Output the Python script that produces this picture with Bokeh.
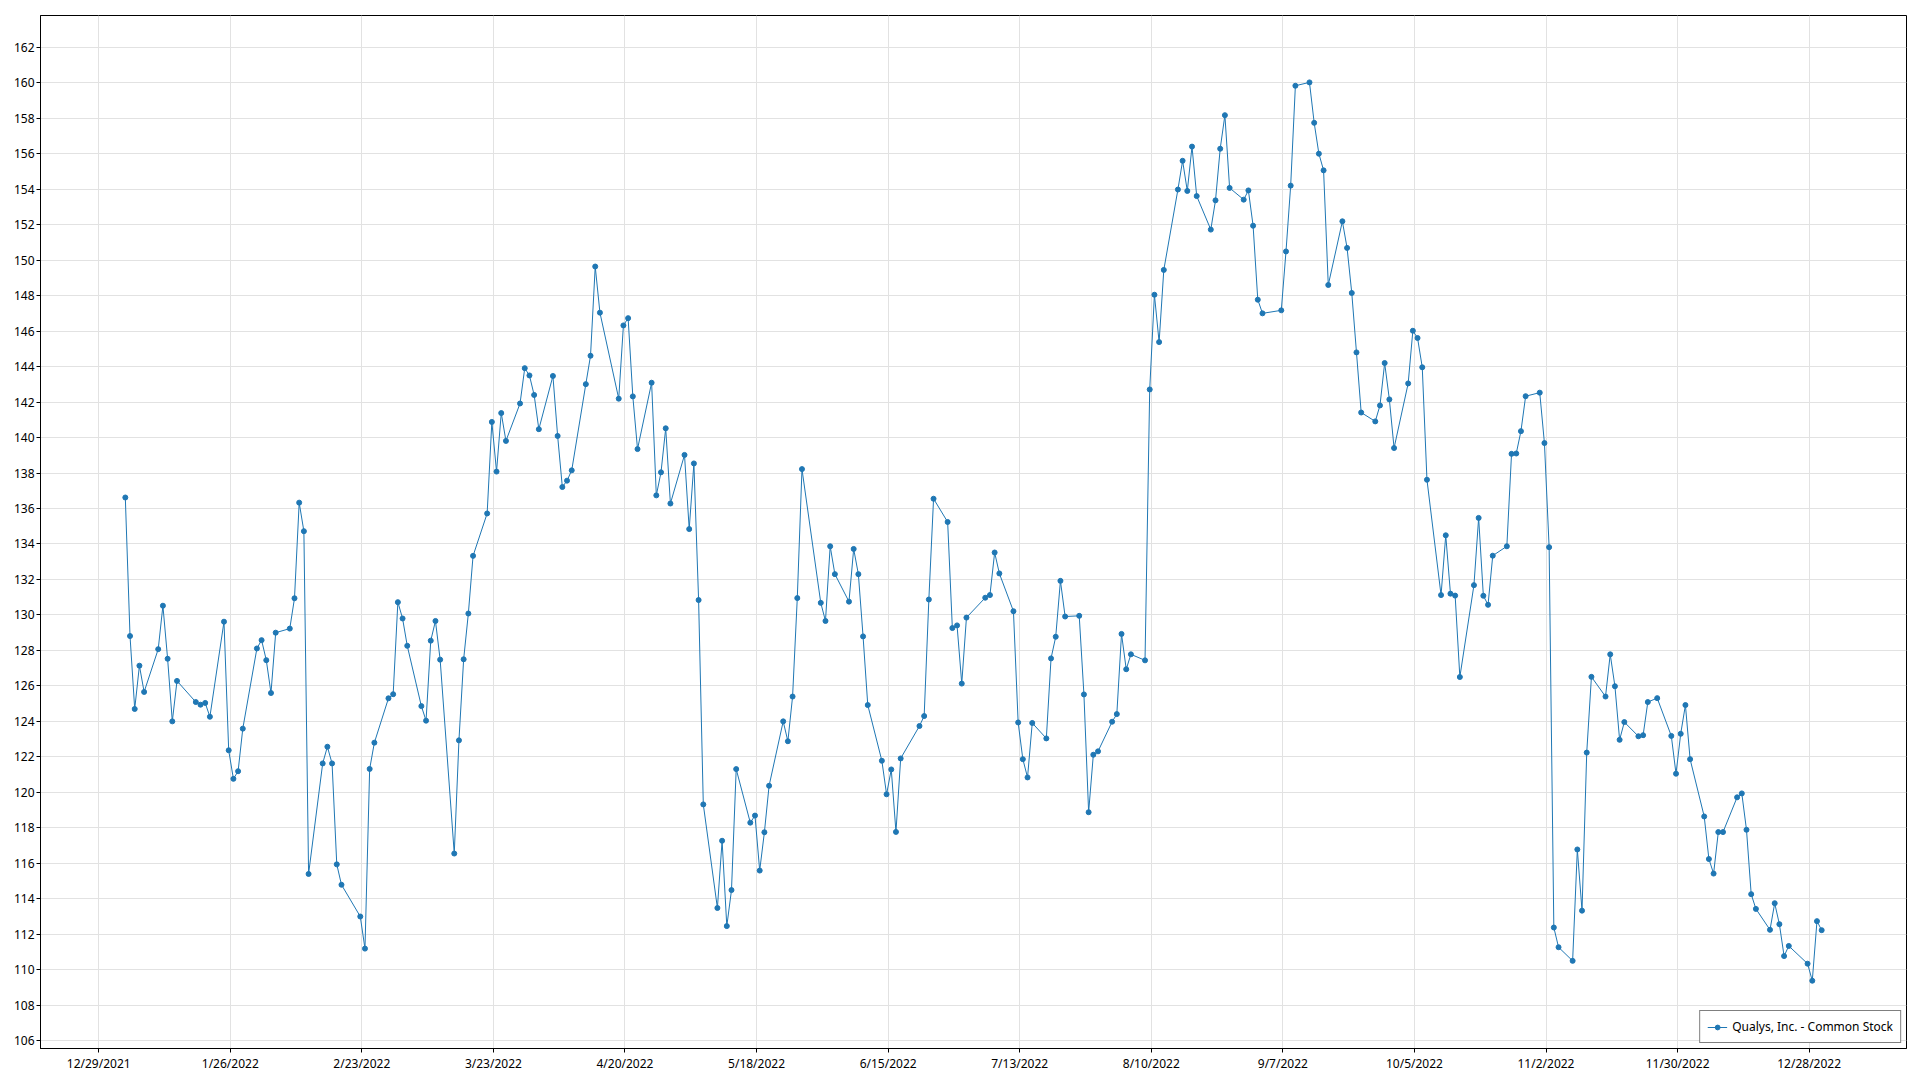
import pandas as pd
from bokeh.plotting import figure
from bokeh.models import (Range1d, FixedTicker, SingleIntervalTicker, CustomJSTickFormatter,
                          Legend, LegendItem, ColumnDataSource)
from bokeh.embed import file_html
from bokeh.resources import INLINE

# ---- data -------------------------------------------------------------
series_name = "Qualys, Inc. - Common Stock"

holidays_2022 = ["2022-01-17", "2022-02-21", "2022-04-15", "2022-05-30", "2022-06-20",
                 "2022-07-04", "2022-09-05", "2022-11-24", "2022-12-26"]

jan = [136.62, 128.81, 124.70, 127.14, 125.66, 128.07, 130.52, 127.53, 124.00, 126.28,
       125.09, 124.94, 125.04, 124.26, 129.62, 122.37, 120.76, 121.19, 123.59, 128.11]
feb = [128.58, 127.45, 125.60, 129.00, 129.23, 130.94, 136.33, 134.72, 115.40, 121.63,
       122.57, 121.63, 115.94, 114.79, 113.00, 111.19, 121.32, 122.80, 125.30]
mar = [125.53, 130.72, 129.80, 128.26, 124.86, 124.04, 128.55, 129.66, 127.48, 116.55,
       122.93, 127.50, 130.08, 133.33, 135.72, 140.88, 138.08, 141.38, 139.81, 141.92,
       143.91, 143.50, 142.40]
apr = [140.47, 143.47, 140.09, 137.21, 137.57, 138.15, 143.01, 144.61, 149.64, 147.04,
       142.19, 146.32, 146.73, 142.32, 139.35, 143.09, 136.74, 138.04, 140.52, 136.28]
may = [139.02, 134.84, 138.54, 130.84, 119.32, 113.48, 117.27, 112.46, 114.49, 121.31,
       118.29, 118.69, 115.59, 117.75, 120.37, 124.00, 122.88, 125.40, 130.95, 138.22,
       130.68]
jun = [129.66, 133.87, 132.30, 130.75, 133.72, 132.30, 128.79, 124.92, 121.78, 119.89,
       121.29, 117.77, 121.91, 123.74, 124.30, 130.87, 136.55, 135.24, 129.26, 129.41,
       126.13]
jul = [129.85, 130.97, 131.12, 133.52, 132.34, 130.21, 123.94, 121.87, 120.84, 123.91,
       123.04, 127.55, 128.77, 131.92, 129.91, 129.95, 125.52, 118.88, 122.12, 122.31]
aug = [123.98, 124.41, 128.93, 126.94, 127.78, 127.44, 142.71, 148.05, 145.38, 149.45,
       153.98, 155.60, 153.90, 156.40, 153.61, 151.72, 153.37, 156.28, 158.17, 154.07,
       153.41, 153.93, 151.94]
sep = [147.77, 147.00, 147.17, 150.49, 154.20, 159.83, 160.02, 157.74, 156.00, 155.06,
       148.60, 152.19, 150.69, 148.15, 144.80, 141.41, 140.91, 141.81, 144.20, 142.15,
       139.41]
oct_ = [143.05, 146.02, 145.61, 143.96, 137.62, 131.12, 134.49, 131.20, 131.09, 126.50,
        131.68, 135.47, 131.08, 130.57, 133.34, 133.87, 139.08, 139.10, 140.36, 142.33,
        142.53]
nov = [139.69, 133.82, 112.38, 111.27, 110.50, 116.78, 113.33, 122.24, 126.51, 125.40,
       127.78, 125.98, 122.96, 123.96, 123.16, 123.22, 125.09, 125.31, 123.18, 121.05,
       123.30]
dec = [124.92, 121.87, 118.64, 116.24, 115.42, 117.76, 117.76, 119.72, 119.94, 117.89,
       114.26, 113.43, 112.25, 113.75, 112.57, 110.77, 111.34, 110.34, 109.38, 112.74,
       112.23]

tick_dates = ["2021-12-29", "2022-01-26", "2022-02-23", "2022-03-23", "2022-04-20",
              "2022-05-18", "2022-06-15", "2022-07-13", "2022-08-10", "2022-09-07",
              "2022-10-05", "2022-11-02", "2022-11-30", "2022-12-28"]

# ---- build ------------------------------------------------------------
closes = jan + feb + mar + apr + may + jun + jul + aug + sep + oct_ + nov + dec
days = pd.bdate_range("2022-01-01", "2022-12-31", freq="C", holidays=holidays_2022)
dates = days + pd.Timedelta(hours=16)          # market close time
assert len(dates) == len(closes)

src = ColumnDataSource(data=dict(x=dates, y=closes))

def ms(ts):
    return pd.Timestamp(ts).value / 1e6

pad = (ms(dates[-1]) - ms(dates[0])) * 0.05
x_start, x_end = ms(dates[0]) - pad, ms(dates[-1]) + pad

FONT = "Noto Sans"
TXT = "#000000"
BLUE = "#1f77b4"

p = figure(width=1912, height=1074, x_axis_type="datetime",
           output_backend="svg", toolbar_location=None,
           x_range=Range1d(x_start, x_end), y_range=Range1d(105.56, 163.79),
           min_border_left=40, min_border_right=6, min_border_top=15, min_border_bottom=23)
p.background_fill_color = "white"
p.border_fill_color = "white"
p.outline_line_color = "#000000"
p.outline_line_width = 1

p.xaxis.ticker = FixedTicker(ticks=[ms(t) for t in tick_dates])
p.xaxis.formatter = CustomJSTickFormatter(code="""
    const d = new Date(tick);
    return (d.getUTCMonth() + 1) + "/" + d.getUTCDate() + "/" + d.getUTCFullYear();
""")
p.yaxis.ticker = SingleIntervalTicker(interval=2, num_minor_ticks=0)

for ax in (p.xaxis, p.yaxis):
    ax.axis_line_color = "#000000"
    ax.major_tick_line_color = "#000000"
    ax.major_tick_out = 4
    ax.major_tick_in = 0
    ax.minor_tick_line_color = None
    ax.major_label_text_font = FONT
    ax.major_label_text_font_size = "12px"
    ax.major_label_text_color = TXT
    ax.major_label_standoff = 2

p.xgrid.grid_line_color = "#e2e2e2"
p.ygrid.grid_line_color = "#e2e2e2"
p.xgrid.grid_line_width = 1
p.ygrid.grid_line_width = 1

ln = p.line("x", "y", source=src, line_color=BLUE, line_width=1)
sc = p.scatter("x", "y", source=src, size=5, fill_color=BLUE, line_color=BLUE)

legend = Legend(items=[LegendItem(label=series_name, renderers=[ln, sc])],
                location="bottom_right")
legend.border_line_color = "#000000"
legend.border_line_width = 1
legend.background_fill_color = "white"
legend.background_fill_alpha = 1
legend.label_text_font = FONT
legend.label_text_font_size = "12px"
legend.label_text_color = TXT
legend.label_height = 14
legend.glyph_width = 20
legend.glyph_height = 12
legend.padding = 7
legend.spacing = 0
legend.margin = 5
legend.label_standoff = 5
p.add_layout(legend)

open("out.html", "w").write(file_html(p, INLINE))
